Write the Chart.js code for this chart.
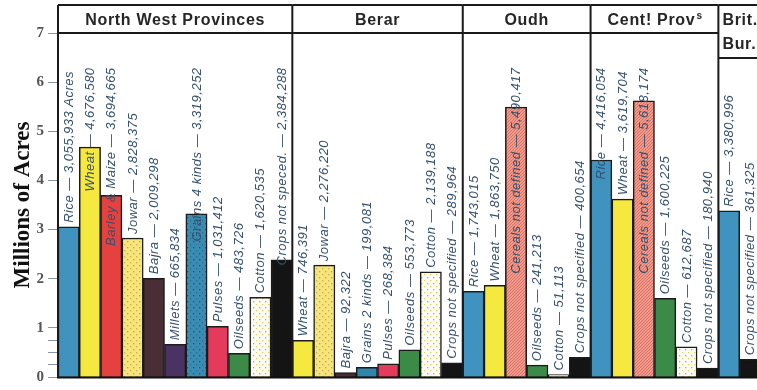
<!DOCTYPE html>
<html>
<head>
<meta charset="utf-8">
<script src="https://cdn.jsdelivr.net/npm/chart.js@4/dist/chart.umd.min.js"></script>
<style>
  html, body { margin: 0; padding: 0; background: #fff; overflow: hidden; }
</style>
</head>
<body>
<canvas id="acreChart" width="770" height="390"></canvas>
<script>
// 지방별 작물 재배 면적 (에이커)
var nwpCrops = ["Rice", "Wheat", "Barley & Maize", "Jowar", "Bajra", "Millets", "Grains 4 kinds", "Pulses", "Oilseeds", "Cotton", "Crops not speced."];
var nwpAcres = [3055933, 4676580, 3694665, 2828375, 2009298, 665834, 3319252, 1031412, 483726, 1620535, 2384288];

var berarCrops = ["Wheat", "Jowar", "Bajra", "Grains 2 kinds", "Pulses", "Oilseeds", "Cotton", "Crops not specified"];
var berarAcres = [746391, 2276220, 92322, 199081, 268384, 553773, 2139188, 289964];

var oudhCrops = ["Rice", "Wheat", "Cereals not defined", "Oilseeds", "Cotton", "Crops not specified"];
var oudhAcres = [1743015, 1863750, 5490417, 241213, 51113, 400654];

var cpCrops = ["Rice", "Wheat", "Cereals not defined", "Oilseeds", "Cotton", "Crops not specified"];
var cpAcres = [4416054, 3619704, 5618174, 1600225, 612687, 180940];

var burmaCrops = ["Rice", "Crops not specified"];
var burmaAcres = [3380996, 361325];

// 패널 제목 (^ 뒤는 위첨자)
var groupTitles = [["North West Provinces"], ["Berar"], ["Oudh"], ["Cent! Prov^s"], ["Brit.", "Bur."]];
var groupCrops = [nwpCrops, berarCrops, oudhCrops, cpCrops, burmaCrops];
var groupAcres = [nwpAcres, berarAcres, oudhAcres, cpAcres, burmaAcres];

// y축 눈금 (백만 에이커)
var yTicks = [0, 1, 2, 3, 4, 5, 6, 7];
var yMinorTicks = [0.25, 0.5, 0.75];

// 전체 막대 목록 만들기
var crops = [].concat(...groupCrops);
var acres = [].concat(...groupAcres);
var groupSizes = groupCrops.map((g) => g.length);
var barLabels = crops.map((c, i) =>
  c + " \u2014 " + acres[i].toLocaleString("en-US") + (i === 0 ? " Acres" : "")
);

// 점, 빗금 무늬 채우기
function makePattern(base, marks, kind) {
  var c = document.createElement("canvas");
  c.width = 6;
  c.height = 6;
  var p = c.getContext("2d");
  p.fillStyle = base;
  p.fillRect(0, 0, 6, 6);
  if (kind === "dots") {
    p.fillStyle = marks[0];
    p.fillRect(1, 1, 1.3, 1.3);
    p.fillStyle = marks[1] || marks[0];
    p.fillRect(4, 4, 1.3, 1.3);
  } else if (kind === "hatch") {
    p.strokeStyle = marks[0];
    p.lineWidth = 0.8;
    p.beginPath();
    p.moveTo(0, 3); p.lineTo(3, 0);
    p.moveTo(0, 6); p.lineTo(6, 0);
    p.moveTo(3, 6); p.lineTo(6, 3);
    p.stroke();
  }
  return p.createPattern(c, "repeat");
}

var cropFill = {
  "Rice": "#3f93be",
  "Wheat": "#f5e83e",
  "Barley & Maize": "#e5413e",
  "Jowar": makePattern("#f6e57c", ["#d49a2a", "#c9b040"], "dots"),
  "Bajra": "#4a2e36",
  "Millets": "#4a3262",
  "Grains 4 kinds": makePattern("#3a8cb3", ["#1c5778", "#2a6f94"], "dots"),
  "Grains 2 kinds": "#2e86ad",
  "Pulses": "#e43a5c",
  "Oilseeds": "#3b8a48",
  "Cotton": makePattern("#fbfbf4", ["#7fb0d8", "#e0cf55"], "dots"),
  "Crops not speced.": "#141414",
  "Crops not specified": "#141414",
  "Cereals not defined": makePattern("#f29a8c", ["#d0675c"], "hatch"),
};

// 막대 위 세로 글씨
var labelPlugin = {
  id: "cropLabels",
  afterDatasetsDraw(chart) {
    var ctx = chart.ctx;
    var meta = chart.getDatasetMeta(0);
    var limit = chart.scales.y.getPixelForValue(6.3);
    ctx.save();
    ctx.font = "italic 13px 'Liberation Sans', Arial, sans-serif";
    ctx.letterSpacing = "0.5px";
    ctx.fillStyle = "#34506c";
    ctx.textBaseline = "middle";
    ctx.textAlign = "left";
    meta.data.forEach((bar, i) => {
      var text = barLabels[i];
      var w = ctx.measureText(text).width;
      var start = bar.y - 4;
      if (start - w < limit) start = limit + w;
      ctx.save();
      ctx.translate(bar.x + 0.5, start);
      ctx.rotate(-Math.PI / 2);
      ctx.fillText(text, 0, 0);
      ctx.restore();
    });
    ctx.restore();
  },
};

// 지방별 칸막이와 제목 칸
var panelPlugin = {
  id: "panels",
  afterDraw(chart) {
    var ctx = chart.ctx;
    var xs = chart.scales.x;
    var area = chart.chartArea;
    var top = 5;
    var start = 0;
    var edge = (i) => (xs.getPixelForValue(i - 1) + xs.getPixelForValue(i)) / 2;
    var titleFont = "bold 16px 'Liberation Sans', Arial, sans-serif";
    ctx.save();
    ctx.strokeStyle = "#1a1a1a";
    ctx.lineWidth = 2;
    groupTitles.forEach((lines, g) => {
      var end = start + groupSizes[g];
      var left = g === 0 ? area.left : edge(start);
      var right = end < crops.length ? edge(end) : area.right;
      var bottom = area.top + (lines.length - 1) * 25;

      ctx.beginPath();
      ctx.moveTo(left, top);
      ctx.lineTo(right, top);
      ctx.moveTo(left, bottom);
      ctx.lineTo(right, bottom);
      ctx.moveTo(right, top);
      ctx.lineTo(right, area.bottom);
      ctx.stroke();

      ctx.fillStyle = "#262626";
      ctx.font = titleFont;
      ctx.letterSpacing = "0.7px";
      ctx.textBaseline = "middle";
      ctx.textAlign = "left";
      lines.forEach((line, k) => {
        var parts = line.split("^");
        var y = top + 16 + k * 24;
        var w = ctx.measureText(parts[0]).width;
        var x = lines.length > 1 ? left + 4 : (left + right) / 2 - w / 2 - (parts[1] ? 3 : 0);
        ctx.fillText(parts[0], x, y);
        if (parts[1]) {
          ctx.font = "bold 10px 'Liberation Sans', Arial, sans-serif";
          ctx.fillText(parts[1], x + w + 1, y - 5);
          ctx.font = titleFont;
        }
      });
      start = end;
    });
    ctx.beginPath();
    ctx.moveTo(area.left, top);
    ctx.lineTo(area.left, area.bottom);
    ctx.stroke();
    ctx.restore();
  },
};

var ctx = document.getElementById("acreChart").getContext("2d");
var acreChart = new Chart(ctx, {
  type: "bar",
  data: {
    labels: crops,
    datasets: [
      {
        data: acres.map((a) => a / 1e6),
        backgroundColor: crops.map((c) => cropFill[c]),
        borderColor: "#1b1b1b",
        borderWidth: 1.5,
        borderSkipped: "bottom",
        categoryPercentage: 1,
        barPercentage: 1,
      },
    ],
  },
  options: {
    responsive: false,
    animation: false,
    devicePixelRatio: 1,
    layout: { padding: { top: 33, right: 9, bottom: 3, left: 0 } },
    plugins: { legend: { display: false }, tooltip: { enabled: false } },
    scales: {
      x: {
        ticks: { display: false },
        grid: { display: false },
        border: { display: true, color: "#111", width: 2.5 },
        afterFit: (scale) => { scale.height = 2; },
      },
      y: {
        min: 0,
        max: 7,
        afterBuildTicks: (scale) => {
          scale.ticks = yTicks.concat(yMinorTicks).sort((a, b) => a - b).map((v) => ({ value: v }));
        },
        afterFit: (scale) => { scale.width = 58; },
        ticks: {
          autoSkip: false,
          padding: 4,
          color: "#555",
          font: { family: "'Liberation Serif', serif", size: 15, weight: "bold" },
          callback: (v) => (yTicks.includes(v) ? String(v) : ""),
        },
        grid: { drawOnChartArea: false, drawTicks: true, tickLength: 10, color: "#8795aa", lineWidth: 1 },
        border: { display: true, color: "#111", width: 2 },
        title: {
          display: true,
          text: "Millions of Acres",
          color: "#111",
          font: { family: "'Liberation Serif', serif", size: 23, weight: "bold" },
          padding: { top: 9, bottom: 0 },
        },
      },
    },
  },
  plugins: [labelPlugin, panelPlugin],
});
</script>
</body>
</html>
